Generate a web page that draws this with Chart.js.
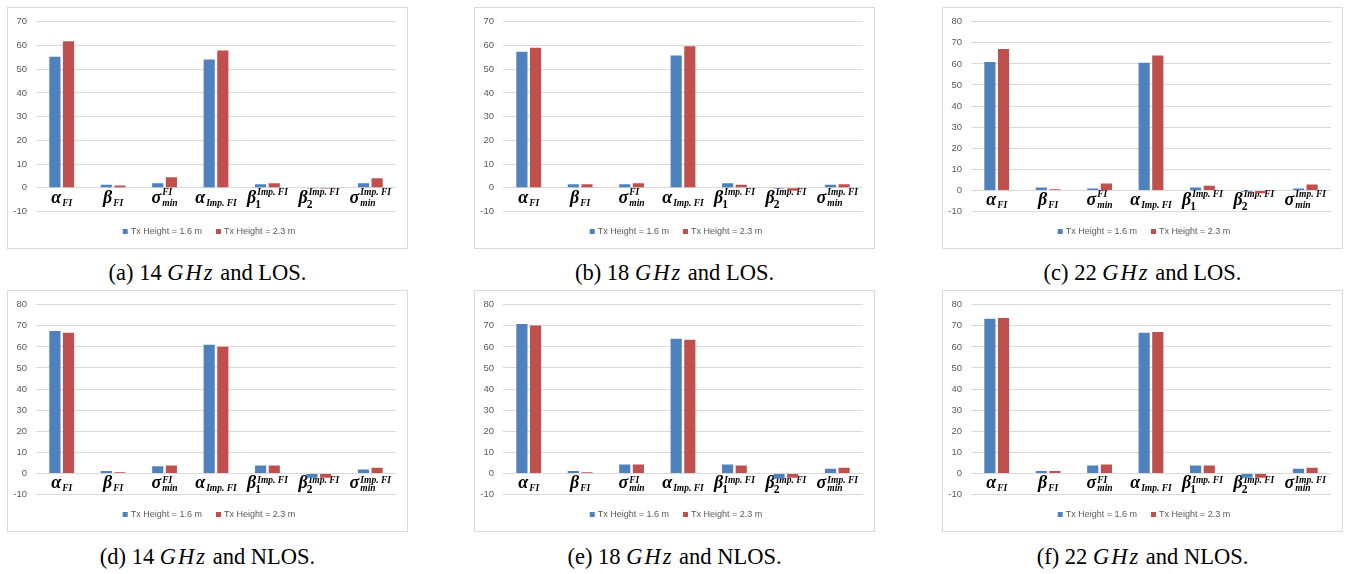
<!DOCTYPE html>
<html>
<head>
<meta charset="utf-8">
<script src="https://cdn.jsdelivr.net/npm/chart.js@4.4.1/dist/chart.umd.min.js"></script>
<style>
  html, body { margin: 0; padding: 0; background: #ffffff; }
  body { width: 1348px; height: 574px; position: relative; overflow: hidden; }
  .frame { position: absolute; width: 401px; height: 242px; box-sizing: border-box; border: 1px solid #d9d9d9; }
  .plot { position: absolute; }
  .caption { position: absolute; width: 401px; text-align: center; font-family: "Liberation Serif", "Times New Roman", serif;
             font-size: 22.5px; line-height: 24px; color: #000; }
  .caption i { letter-spacing: 2px; }
</style>
</head>
<body>
<script>
// Path-loss model parameters (category axis)
const categoryBase = ['α', 'β', 'σ', 'α', 'β', 'β', 'σ'];
const categorySup  = ['', '', 'FI', '', 'Imp. FI', 'Imp. FI', 'Imp. FI'];
const categorySub  = ['FI', 'FI', 'min', 'Imp. FI', '1', '2', 'min'];
const categories   = ['α_FI', 'β_FI', 'σ_min^FI', 'α_Imp. FI', 'β_1^Imp. FI', 'β_2^Imp. FI', 'σ_min^Imp. FI'];

const seriesNames = ['Tx Height = 1.6 m', 'Tx Height = 2.3 m'];

// Fitted values per scenario, Tx height 1.6 m and 2.3 m
const los14Low   = [55.2, 1.25, 1.9, 54.1, 1.5, -0.35, 1.9];
const los14High  = [61.8, 1.0, 4.45, 57.9, 1.9, -0.4, 4.0];
const los18Low   = [57.3, 1.5, 1.5, 55.8, 1.9, -0.4, 1.25];
const los18High  = [59.0, 1.5, 1.9, 59.7, 1.25, -1.25, 1.5];
const los22Low   = [60.9, 1.4, 0.9, 60.5, 1.4, -0.6, 0.9];
const los22High  = [67.1, 0.6, 3.3, 64.0, 2.2, -1.4, 2.8];
const nlos14Low  = [67.5, 1.1, 3.45, 61.0, 3.8, -2.0, 1.9];
const nlos14High = [66.7, 0.6, 3.8, 60.1, 3.8, -2.0, 2.7];
const nlos18Low  = [70.9, 1.1, 4.2, 63.8, 4.2, -2.5, 2.2];
const nlos18High = [70.1, 0.6, 4.2, 63.4, 3.8, -2.0, 2.7];
const nlos22Low  = [73.3, 1.1, 3.8, 66.7, 3.8, -2.0, 2.2];
const nlos22High = [73.7, 1.1, 4.2, 67.0, 3.8, -2.0, 2.7];

// Axis ranges and captions
const yMin = -10;
const yStep = 10;
const yMaxima = [70, 70, 80, 80, 80, 80];
const captionTags = ['(a)', '(b)', '(c)', '(d)', '(e)', '(f)'];
const frequencies = [14, 18, 22, 14, 18, 22];
const conditions = ['LOS', 'LOS', 'LOS', 'NLOS', 'NLOS', 'NLOS'];

const lowSeries  = [los14Low, los18Low, los22Low, nlos14Low, nlos18Low, nlos22Low];
const highSeries = [los14High, los18High, los22High, nlos14High, nlos18High, nlos22High];

// Layout of the 3 x 2 grid
const colLeft = [7, 474, 942];
const rowTop = [7, 290];
const captionTop = [261, 545];
const supRaise = [8, 5];
const W = 401, H = 242;

const BLUE = '#4f81bd';
const RED = '#c0504d';
const GRID = '#d9d9d9';
const TICK = '#595959';

function drawMathLabel(ctx, cx, y, base, sup, sub, raise) {
  const fBase = 'italic bold 18px "Liberation Serif"';
  const fScript = 'italic bold 9.5px "Liberation Serif"';
  const fDigit = 'bold 11.5px "Liberation Serif"';
  const digit = /^\d$/.test(sub);
  ctx.font = fBase;
  const wb = ctx.measureText(base).width;
  ctx.font = fScript;
  const wsup = sup ? ctx.measureText(sup).width : 0;
  ctx.font = digit ? fDigit : fScript;
  const wsub = sub ? ctx.measureText(sub).width : 0;
  const w = wb + 1 + Math.max(wsup, wsub);
  let x = cx - w / 2;
  ctx.fillStyle = '#000';
  ctx.textAlign = 'left';
  ctx.textBaseline = 'alphabetic';
  ctx.font = fBase;
  ctx.fillText(base, x, y);
  x += wb + 1;
  if (sup) {
    ctx.font = fScript;
    ctx.fillText(sup, x, y - raise);
  }
  if (sub) {
    ctx.font = digit ? fDigit : fScript;
    ctx.fillText(sub, x - (digit ? 2 : 0), y + (digit ? 5 : 3));
  }
}

// Category labels under the zero line (drawn beneath the bars) and the legend row
const annotate = {
  id: 'annotate',
  beforeDatasetsDraw(chart, args, opts) {
    const ctx = chart.ctx;
    const xs = chart.scales.x, ys = chart.scales.y;
    const y0 = ys.getPixelForValue(0);
    ctx.save();
    categories.forEach((c, i) => {
      drawMathLabel(ctx, xs.getPixelForValue(i), y0 + 15, categoryBase[i], categorySup[i], categorySub[i], opts.raise);
    });
    ctx.restore();
  },
  afterDraw(chart) {
    const ctx = chart.ctx;
    ctx.save();
    ctx.font = '9px "Liberation Sans"';
    ctx.textBaseline = 'middle';
    ctx.textAlign = 'left';
    const sq = 5, gap = 3, between = 14;
    const widths = seriesNames.map(s => ctx.measureText(s).width);
    const total = widths.reduce((a, b) => a + b, 0) + 2 * (sq + gap) + between;
    let x = 202 - total / 2;
    const ly = 224.5;
    [BLUE, RED].forEach((col, k) => {
      ctx.fillStyle = col;
      ctx.fillRect(x, ly - sq / 2, sq, sq);
      x += sq + gap;
      ctx.fillStyle = TICK;
      ctx.fillText(seriesNames[k], x, ly + 0.5);
      x += widths[k] + between;
    });
    ctx.restore();
  }
};

for (let p = 0; p < 6; p++) {
  const row = Math.floor(p / 3);
  const left = colLeft[p % 3], top = rowTop[row];
  const frame = document.createElement('div');
  frame.className = 'frame';
  frame.style.left = left + 'px';
  frame.style.top = top + 'px';
  document.body.appendChild(frame);

  const canvas = document.createElement('canvas');
  canvas.className = 'plot';
  canvas.width = W; canvas.height = H;
  canvas.style.left = left + 'px';
  canvas.style.top = top + 'px';
  canvas.style.width = W + 'px';
  canvas.style.height = H + 'px';
  document.body.appendChild(canvas);

  const cap = document.createElement('div');
  cap.className = 'caption';
  cap.style.left = left + 'px';
  cap.style.top = captionTop[row] + 'px';
  cap.innerHTML = captionTags[p] + ' ' + frequencies[p] + ' <i>GHz</i> and ' + conditions[p] + '.';
  document.body.appendChild(cap);

  new Chart(canvas, {
    type: 'bar',
    data: {
      labels: categories,
      datasets: [
        { label: seriesNames[0], data: lowSeries[p], backgroundColor: BLUE, borderWidth: 0 },
        { label: seriesNames[1], data: highSeries[p], backgroundColor: RED, borderWidth: 0 }
      ]
    },
    options: {
      responsive: false,
      animation: false,
      events: [],
      layout: { padding: { left: 0, top: 12, right: 12, bottom: 37.5 } },
      datasets: { bar: { categoryPercentage: 0.53, barPercentage: 0.82 } },
      plugins: { legend: { display: false }, tooltip: { enabled: false }, annotate: { raise: supRaise[row] } },
      scales: {
        x: { display: false, grid: { display: false } },
        y: {
          min: yMin, max: yMaxima[p],
          afterFit(scale) { scale.width = 29; },
          ticks: { stepSize: yStep, padding: 9, color: TICK, font: { family: 'Liberation Sans', size: 9.5 } },
          grid: { color: GRID, lineWidth: 1, drawTicks: false },
          border: { display: false }
        }
      }
    },
    plugins: [annotate]
  });
}
</script>
</body>
</html>
